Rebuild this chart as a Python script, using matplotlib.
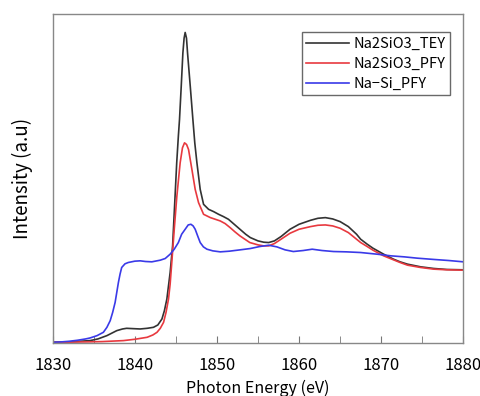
import matplotlib
matplotlib.use("Agg")
import matplotlib.pyplot as plt
from matplotlib.ticker import MultipleLocator

plt.rcParams['font.family'] = ['Noto Sans CJK JP', 'DejaVu Sans']

# Na2SiO3 TEY
e_tey = [1830, 1832, 1834.55, 1835.5, 1836.6, 1837.8, 1838.5, 1839, 1839.8, 1840.65, 1841.5,
         1842.27, 1842.8, 1843.3, 1843.6, 1843.9, 1844.3, 1844.6, 1844.9, 1845.1, 1845.3,
         1845.44, 1845.65, 1845.85, 1846.0, 1846.13, 1846.29, 1846.42, 1846.75, 1847.07,
         1847.3, 1847.56, 1847.96, 1848.37, 1848.98, 1849.6, 1850.2, 1850.8, 1851.4, 1852.1,
         1852.8, 1853.5, 1854.06, 1855, 1855.7, 1856.3, 1857, 1857.8, 1858.9, 1860, 1861.4,
         1862.3, 1863.2, 1864.1, 1865, 1866, 1867, 1867.5, 1868.3, 1869, 1870.3, 1871.5,
         1872.3, 1873.2, 1874.8, 1876.4, 1878, 1880]
i_tey = [0.0, 0.001, 0.005, 0.010, 0.020, 0.035, 0.040, 0.042, 0.041, 0.040, 0.042,
         0.045, 0.052, 0.070, 0.095, 0.13, 0.21, 0.29, 0.44, 0.54, 0.62,
         0.67, 0.77, 0.87, 0.915, 0.932, 0.915, 0.87, 0.77, 0.67,
         0.60, 0.54, 0.46, 0.415, 0.40, 0.393, 0.385, 0.378, 0.37, 0.355,
         0.34, 0.325, 0.315, 0.305, 0.301, 0.30, 0.305, 0.318, 0.34, 0.355, 0.367,
         0.373, 0.375, 0.371, 0.363, 0.348, 0.325, 0.31, 0.295, 0.283, 0.265, 0.25,
         0.242, 0.235, 0.227, 0.222, 0.219, 0.218]

# Na2SiO3 PFY
e_pfy = [1830, 1834, 1836, 1838.6, 1840, 1841.5, 1842.2, 1842.7, 1843.1, 1843.5, 1843.8,
         1844.1, 1844.3, 1844.5, 1844.8, 1845.12, 1845.52, 1845.8, 1846.05, 1846.3, 1846.54,
         1846.95, 1847.35, 1847.76, 1848.37, 1849.2, 1849.8, 1850.4, 1851, 1851.6, 1852.2,
         1852.8, 1853.4, 1854, 1855, 1855.7, 1856.3, 1857, 1857.8, 1858.9, 1860, 1861.4,
         1862.3, 1863.2, 1864.1, 1865, 1866, 1867, 1867.5, 1868.3, 1869, 1870.3, 1871.5,
         1872.3, 1873.2, 1874.8, 1876.4, 1878, 1880]
i_pfy = [0.0, 0.001, 0.002, 0.005, 0.009, 0.015, 0.022, 0.030, 0.042, 0.060, 0.090,
         0.13, 0.175, 0.24, 0.34, 0.44, 0.54, 0.585, 0.60, 0.595, 0.58,
         0.52, 0.46, 0.42, 0.385, 0.375, 0.37, 0.365, 0.357, 0.345, 0.332,
         0.32, 0.31, 0.30, 0.293, 0.29, 0.29, 0.297, 0.31, 0.328, 0.34, 0.348,
         0.352, 0.353, 0.35, 0.343, 0.33, 0.31, 0.30, 0.288, 0.277, 0.26, 0.248,
         0.24, 0.232, 0.225, 0.22, 0.218, 0.217]

# Na-Si PFY
e_nasi = [1830, 1831, 1832, 1833, 1834, 1834.55, 1835.4, 1836.17, 1836.6, 1837.0, 1837.3,
          1837.6, 1838.0, 1838.2, 1838.4, 1838.8, 1839.2, 1840.0, 1840.65, 1841.3, 1842.07,
          1843.1, 1843.7, 1844.3, 1844.8, 1845.3, 1845.7, 1846.13, 1846.5, 1846.83, 1847.1,
          1847.35, 1847.65, 1847.96, 1848.35, 1848.78, 1849.5, 1850.4, 1851.5, 1852.8,
          1854.06, 1855.2, 1856.3, 1857.3, 1858.3, 1859.3, 1860.5, 1861.6, 1862.8, 1864.2,
          1865.8, 1867.5, 1869.5, 1871.2, 1872.8, 1874.4, 1876.5, 1878.2, 1880]
i_nasi = [0.0, 0.001, 0.003, 0.006, 0.010, 0.013, 0.020, 0.030, 0.045, 0.065, 0.09,
          0.12, 0.18, 0.205, 0.225, 0.236, 0.24, 0.244, 0.245, 0.243, 0.242,
          0.247, 0.252, 0.265, 0.28, 0.30, 0.325, 0.34, 0.353, 0.355, 0.35,
          0.34, 0.32, 0.30, 0.287, 0.28, 0.275, 0.272, 0.274, 0.278,
          0.282, 0.288, 0.292, 0.287, 0.278, 0.273, 0.276, 0.28, 0.276, 0.273,
          0.272, 0.27, 0.265, 0.26, 0.257, 0.253, 0.249, 0.246, 0.242]

fig = plt.figure(figsize=(4.81, 3.96), dpi=100)
ax = fig.add_axes([0.1096, 0.134, 0.8536, 0.831])

ax.plot(e_tey, i_tey, color='#333333', lw=1.2, label='Na2SiO3_TEY')
ax.plot(e_pfy, i_pfy, color='#e8393f', lw=1.2, label='Na2SiO3_PFY')
ax.plot(e_nasi, i_nasi, color='#3a3ae8', lw=1.2, label='Na\u2212Si_PFY')

ax.set_xlim(1830, 1880)
ax.set_ylim(-0.002, 0.988)
ax.xaxis.set_major_locator(MultipleLocator(10))
ax.xaxis.set_minor_locator(MultipleLocator(5))
ax.set_yticks([])
ax.tick_params(axis='x', which='both', direction='in', color='#777777', labelsize=12, pad=10)
ax.tick_params(axis='x', which='major', length=5)
ax.tick_params(axis='x', which='minor', length=5)
for s in ax.spines.values():
    s.set_color('#888888')
    s.set_linewidth(1.0)

ax.set_xlabel('Photon Energy (eV)', fontsize=11.5, labelpad=4)
ax.set_ylabel('Intensity (a.u)', fontsize=13.5, labelpad=14)

leg = ax.legend(loc='upper right', bbox_to_anchor=(0.968, 0.944), fontsize=10.5, frameon=True,
                fancybox=False, handlelength=2.9, borderpad=0.3, labelspacing=0.42,
                handletextpad=0.35, borderaxespad=0)
leg.get_frame().set_edgecolor('#444444')
leg.get_frame().set_linewidth(1.0)

fig.savefig('out.png', dpi=100)
